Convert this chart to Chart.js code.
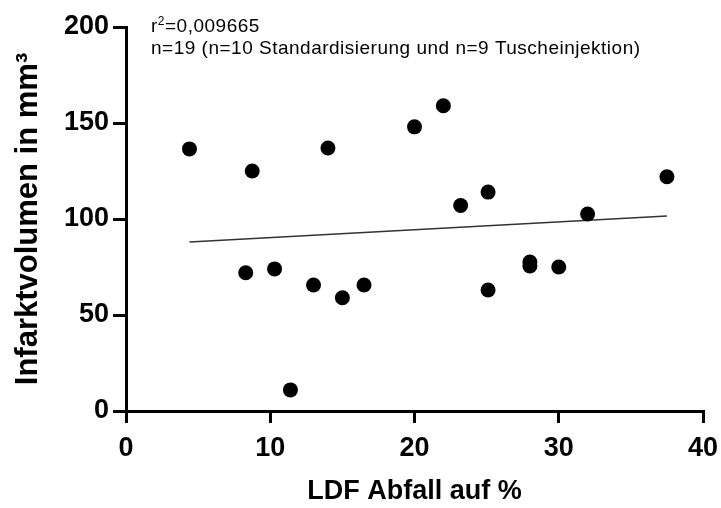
<!DOCTYPE html>
<html>
<head>
<meta charset="utf-8">
<script src="https://cdn.jsdelivr.net/npm/chart.js@4"></script>
<style>
  html, body { margin: 0; padding: 0; background: #fff; }
  #wrap { width: 721px; height: 508px; }
</style>
</head>
<body>
<div id="wrap"><canvas id="ldfChart" width="721" height="508"></canvas></div>
<script>
// LDF-Abfall (%) gegen Infarktvolumen (mm3)
const ldfAbfall = [4.4, 8.75, 8.3, 10.3, 11.4, 13, 14, 15, 16.5, 20, 22, 23.2, 25.1, 25.1, 28, 28, 30, 32, 37.5];
const infarktVolumen = [136.5, 125, 72, 74, 11, 65.6, 137, 59, 65.6, 148, 159, 107, 114, 63, 77.6, 75.5, 75, 102.6, 122];

// Regressionsgerade (Anfang und Ende)
const fitX = [4.4, 37.5];
const fitY = [88, 101.6];

const xTicks = [0, 10, 20, 30, 40];
const yTicks = [0, 50, 100, 150, 200];

const rQuadrat = "0,009665";
const nText = "n=19 (n=10 Standardisierung und n=9 Tuscheinjektion)";

const fontFam = "'Liberation Sans', Arial, Helvetica, sans-serif";

// Text oben links im Diagramm
const infoText = {
  id: "infoText",
  afterDraw(chart) {
    const ctx = chart.ctx;
    ctx.save();
    ctx.fillStyle = "#000";
    ctx.textBaseline = "alphabetic";
    ctx.textAlign = "left";
    ctx.letterSpacing = "0.5px";
    let x = 151;
    ctx.font = "19px " + fontFam;
    ctx.fillText("r", x, 32);
    x += ctx.measureText("r").width;
    ctx.font = "12px " + fontFam;
    ctx.fillText("2", x, 25);
    x += ctx.measureText("2").width;
    ctx.font = "19px " + fontFam;
    ctx.fillText("=" + rQuadrat, x, 32);
    ctx.fillText(nText, 151, 54);
    ctx.restore();
  },
};

const ctx = document.getElementById("ldfChart").getContext("2d");

new Chart(ctx, {
  type: "scatter",
  data: {
    datasets: [
      {
        label: "Messwerte",
        data: ldfAbfall.map((x, i) => ({ x: x, y: infarktVolumen[i] })),
        backgroundColor: "#000",
        borderWidth: 0,
        pointRadius: 7.5,
      },
      {
        type: "line",
        label: "Regression",
        data: fitX.map((x, i) => ({ x: x, y: fitY[i] })),
        borderColor: "#333",
        borderWidth: 1.5,
        pointRadius: 0,
        fill: false,
      },
    ],
  },
  options: {
    responsive: false,
    animation: false,
    layout: { padding: { top: 27, right: 18, left: 0, bottom: 0 } },
    plugins: {
      legend: { display: false },
      tooltip: { enabled: false },
    },
    scales: {
      x: {
        type: "linear",
        min: 0,
        max: 40,
        afterBuildTicks: (s) => { s.ticks = xTicks.map((v) => ({ value: v })); },
        afterFit: (s) => {
          s.height = 97;
          s.paddingRight = 0;
        },
        grid: { drawOnChartArea: false, tickLength: 12, lineWidth: 3, color: "#000" },
        border: { display: true, width: 3, color: "#000" },
        ticks: { color: "#000", padding: 9, font: { family: fontFam, size: 27, weight: "bold" } },
        title: {
          display: true,
          text: "LDF Abfall auf %",
          color: "#000",
          padding: { top: 0, bottom: 0 },
          font: { family: fontFam, size: 27, weight: "bold" },
        },
      },
      y: {
        type: "linear",
        min: 0,
        max: 200,
        afterBuildTicks: (s) => { s.ticks = yTicks.map((v) => ({ value: v })); },
        afterFit: (s) => { s.width = 126; },
        grid: { drawOnChartArea: false, tickLength: 13, lineWidth: 3, color: "#000" },
        border: { display: true, width: 3, color: "#000" },
        ticks: { color: "#000", padding: 4, font: { family: fontFam, size: 27, weight: "bold" } },
        title: {
          display: true,
          text: "Infarktvolumen in mm³",
          color: "#000",
          padding: { top: 10, bottom: 0 },
          font: { family: fontFam, size: 31, weight: "bold" },
        },
      },
    },
  },
  plugins: [infoText],
});
</script>
</body>
</html>
